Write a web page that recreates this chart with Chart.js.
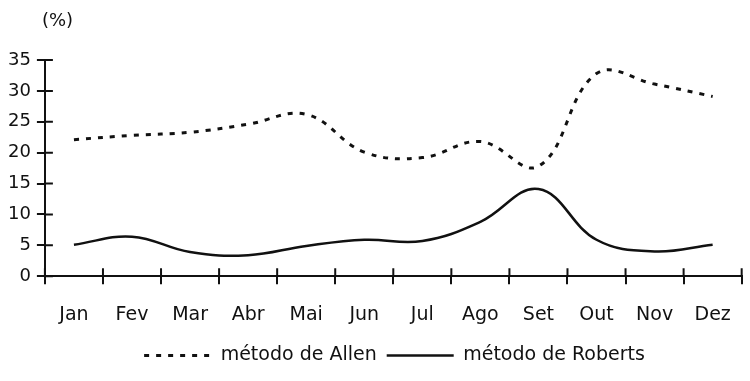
<!DOCTYPE html>
<html>
<head>
<meta charset="utf-8">
<script src="https://cdn.jsdelivr.net/npm/chart.js@4"></script>
<style>
  html, body { margin: 0; padding: 0; background: #fff; }
  #wrap { width: 750px; height: 381px; }
</style>
</head>
<body>
<div id="wrap"><canvas id="metodoChart"></canvas></div>
<script>
const months = ['Jan', 'Fev', 'Mar', 'Abr', 'Mai', 'Jun', 'Jul', 'Ago', 'Set', 'Out', 'Nov', 'Dez'];
const allenValues = [22.1, 22.8, 23.3, 24.6, 26.2, 20.1, 19.2, 21.8, 17.8, 32.8, 31.1, 29.1];
const robertsValues = [5.1, 6.4, 3.9, 3.4, 4.9, 5.9, 5.7, 8.8, 14.1, 5.9, 4.0, 5.1];
const yTicks = [0, 5, 10, 15, 20, 25, 30, 35];
const unitLabel = '(%)';

const FONT = 'DejaVu Sans, sans-serif';
const INK = '#111';

// ticks that cross the axes (Chart.js only draws the outer half), plus the unit label
const crossTicks = {
    id: 'crossTicks',
    afterLayout(chart) {
        // legend sits a bit right of centre in the original
        if (chart.legend) {
            chart.legend.left += 21;
            chart.legend.right += 21;
        }
    },
    afterDraw(chart) {
        const { ctx, scales: { x, y } } = chart;
        ctx.save();
        ctx.strokeStyle = INK;
        ctx.lineWidth = 2;
        ctx.beginPath();
        yTicks.forEach(v => {
            const py = y.getPixelForValue(v);
            ctx.moveTo(x.left, py);
            ctx.lineTo(x.left + 8, py);
        });
        for (let i = 0; i <= months.length; i++) {
            const px = x.getPixelForValue(i - 0.5);
            ctx.moveTo(px, y.bottom);
            ctx.lineTo(px, y.bottom - 8);
        }
        ctx.stroke();
        ctx.fillStyle = INK;
        ctx.font = '18px ' + FONT;
        ctx.textAlign = 'left';
        ctx.textBaseline = 'middle';
        ctx.fillText(unitLabel, x.left - 3, 21);
        ctx.restore();
    }
};

const ctx = document.getElementById('metodoChart').getContext('2d');
new Chart(ctx, {
    type: 'line',
    data: {
        labels: months,
        datasets: [
            {
                label: 'método de Allen',
                data: allenValues,
                borderColor: INK,
                backgroundColor: INK,
                borderWidth: 3,
                borderDash: [5, 7],
                pointRadius: 0,
                tension: 0.4
            },
            {
                label: 'método de Roberts',
                data: robertsValues,
                borderColor: INK,
                backgroundColor: INK,
                borderWidth: 2.5,
                pointRadius: 0,
                tension: 0.4
            }
        ]
    },
    options: {
        responsive: true,
        maintainAspectRatio: false,
        animation: false,
        layout: { padding: { left: 2, right: 5, top: 60, bottom: 6 } },
        scales: {
            x: {
                offset: true,
                afterFit: (scale) => { scale.height -= 9; },
                grid: { offset: true, drawOnChartArea: false, drawTicks: true, tickLength: 8, color: INK, lineWidth: 2 },
                border: { display: true, color: INK, width: 2 },
                ticks: { color: INK, padding: 19, font: { family: FONT, size: 19 } }
            },
            y: {
                min: 0,
                max: 35,
                afterBuildTicks: (scale) => { scale.ticks = yTicks.map(v => ({ value: v })); },
                grid: { drawOnChartArea: false, drawTicks: true, tickLength: 8, color: INK, lineWidth: 2 },
                border: { display: true, color: INK, width: 2 },
                ticks: { color: INK, padding: 6, font: { family: FONT, size: 18 } }
            }
        },
        plugins: {
            legend: {
                position: 'bottom',
                labels: {
                    usePointStyle: true,
                    pointStyle: 'line',
                    pointStyleWidth: 67,
                    boxHeight: 10,
                    padding: 10,
                    color: INK,
                    font: { family: FONT, size: 19 },
                    generateLabels: (chart) => {
                        const items = Chart.defaults.plugins.legend.labels.generateLabels(chart);
                        items.forEach((item, i) => {
                            const ds = chart.data.datasets[i];
                            item.lineDash = ds.borderDash || [];
                            item.lineWidth = ds.borderWidth;
                            item.strokeStyle = ds.borderColor;
                        });
                        return items;
                    }
                }
            },
            tooltip: { enabled: false }
        }
    },
    plugins: [crossTicks]
});
</script>
</body>
</html>
